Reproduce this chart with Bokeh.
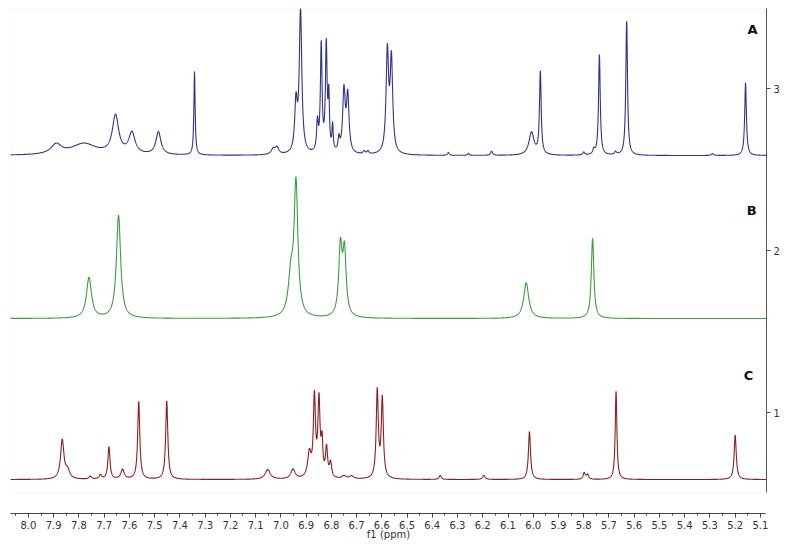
import numpy as np
from bokeh.plotting import figure
from bokeh.models import Range1d, Label, BoxAnnotation, FixedTicker, NumeralTickFormatter
from bokeh.embed import file_html
from bokeh.resources import INLINE

# ---- data (chemical shift in ppm, intensity in axis units, half-width in ppm) ----
spectrum_labels = ["A", "B", "C"]
spectrum_offsets = [2.586, 1.580, 0.586]

a_shift = [7.89, 7.78, 7.655, 7.59, 7.485, 7.342, 7.03, 7.015, 6.94, 6.922, 6.855, 6.84, 6.82,
           6.81, 6.795, 6.77, 6.75, 6.735, 6.67, 6.655, 6.578, 6.562, 6.336, 6.257, 6.165,
           6.007, 5.972, 5.80, 5.76, 5.738, 5.674, 5.63, 5.29, 5.159]
a_height = [0.060, 0.070, 0.235, 0.130, 0.140, 0.515, 0.035, 0.040, 0.300, 0.880, 0.180, 0.660, 0.660,
            0.320, 0.160, 0.080, 0.380, 0.350, 0.018, 0.018, 0.620, 0.570, 0.018, 0.012, 0.025,
            0.140, 0.510, 0.018, 0.030, 0.620, 0.018, 0.830, 0.012, 0.450]
a_width = [0.025, 0.060, 0.015, 0.015, 0.012, 0.003, 0.010, 0.008, 0.006, 0.006, 0.004, 0.004, 0.004,
           0.003, 0.003, 0.004, 0.006, 0.006, 0.005, 0.005, 0.006, 0.006, 0.004, 0.004, 0.005,
           0.012, 0.004, 0.005, 0.005, 0.004, 0.005, 0.004, 0.005, 0.004]

b_shift = [7.76, 7.643, 6.96, 6.94, 6.764, 6.748, 6.028, 5.765]
b_height = [0.250, 0.635, 0.240, 0.810, 0.420, 0.390, 0.220, 0.495]
b_width = [0.012, 0.010, 0.012, 0.009, 0.008, 0.008, 0.012, 0.006]

c_shift = [7.866, 7.845, 7.755, 7.715, 7.681, 7.627, 7.563, 7.452, 7.052, 6.952, 6.887, 6.867,
           6.849, 6.837, 6.819, 6.803, 6.75, 6.72, 6.618, 6.598, 6.369, 6.196, 6.015, 5.798,
           5.785, 5.672, 5.200]
c_height = [0.240, 0.050, 0.018, 0.025, 0.200, 0.060, 0.480, 0.485, 0.060, 0.060, 0.150, 0.490,
            0.470, 0.200, 0.180, 0.090, 0.018, 0.018, 0.540, 0.490, 0.025, 0.025, 0.295, 0.040,
            0.030, 0.545, 0.275]
c_width = [0.008, 0.010, 0.006, 0.006, 0.005, 0.008, 0.005, 0.005, 0.012, 0.010, 0.008, 0.005,
           0.005, 0.004, 0.005, 0.005, 0.010, 0.010, 0.005, 0.005, 0.005, 0.006, 0.005, 0.005,
           0.005, 0.004, 0.005]

x_ticks = [8.0, 7.9, 7.8, 7.7, 7.6, 7.5, 7.4, 7.3, 7.2, 7.1, 7.0, 6.9, 6.8, 6.7, 6.6, 6.5, 6.4,
           6.3, 6.2, 6.1, 6.0, 5.9, 5.8, 5.7, 5.6, 5.5, 5.4, 5.3, 5.2, 5.1]
y_ticks = [1, 2, 3]

colors = ["#32328e", "#3e9c3e", "#8e1f1f"]


def spectrum(x, shifts, heights, widths, base):
    y = np.full_like(x, base)
    for c, h, w in zip(shifts, heights, widths):
        y += h * w * w / ((x - c) ** 2 + w * w)
    return y


x = np.linspace(8.072, 5.078, 5000)

p = figure(frame_width=756, frame_height=505, output_backend="svg", toolbar_location=None,
           x_range=Range1d(8.071, 5.076), y_range=Range1d(0.3765, 3.494),
           y_axis_location="right", min_border_left=10, min_border_top=8,
           min_border_right=0, min_border_bottom=0)
p.outline_line_color = None
p.grid.visible = False

p.add_layout(BoxAnnotation(bottom=0.506, fill_alpha=0, line_color="#dadada", line_width=1))

for (sh, hh, ww), base, col in zip([(a_shift, a_height, a_width),
                                     (b_shift, b_height, b_width),
                                     (c_shift, c_height, c_width)], spectrum_offsets, colors):
    p.line(x, spectrum(x, sh, hh, ww, base), line_color=col, line_width=1.1)

label_pos = [(5.131, 3.364), (5.135, 2.247), (5.147, 1.228)]
for t, (lx, ly) in zip(spectrum_labels, label_pos):
    p.add_layout(Label(x=lx, y=ly, text=t, text_font="DejaVu Sans", text_font_style="bold",
                       text_font_size="13px", text_align="center", text_baseline="middle",
                       text_color="#111111"))

xa = p.xaxis[0]
xa.ticker = FixedTicker(ticks=x_ticks, minor_ticks=[v + 0.05 for v in x_ticks] + [8.05])
xa.formatter = NumeralTickFormatter(format="0.0")
xa.bounds = (8.08, 5.08)
xa.axis_line_color = "#444444"
xa.major_tick_line_color = "#444444"
xa.minor_tick_line_color = "#444444"
xa.major_tick_in = 0
xa.major_tick_out = 4
xa.minor_tick_in = 0
xa.minor_tick_out = 2
xa.major_label_standoff = 3
xa.major_label_text_font = "DejaVu Sans"
xa.major_label_text_font_size = "10px"
xa.major_label_text_color = "#333333"
xa.axis_label = "f1 (ppm)"
xa.axis_label_text_font = "DejaVu Sans"
xa.axis_label_text_font_size = "10px"
xa.axis_label_text_font_style = "normal"
xa.axis_label_text_color = "#333333"
xa.axis_label_standoff = -3

ya = p.yaxis[0]
ya.ticker = FixedTicker(ticks=y_ticks, minor_ticks=[])
ya.bounds = (0.506, 3.494)
ya.axis_line_color = "#444444"
ya.major_tick_line_color = "#444444"
ya.major_tick_in = 0
ya.major_tick_out = 4
ya.major_label_standoff = 3
ya.major_label_text_font = "DejaVu Sans"
ya.major_label_text_font_size = "10px"
ya.major_label_text_color = "#333333"

open("out.html", "w").write(file_html(p, INLINE))
